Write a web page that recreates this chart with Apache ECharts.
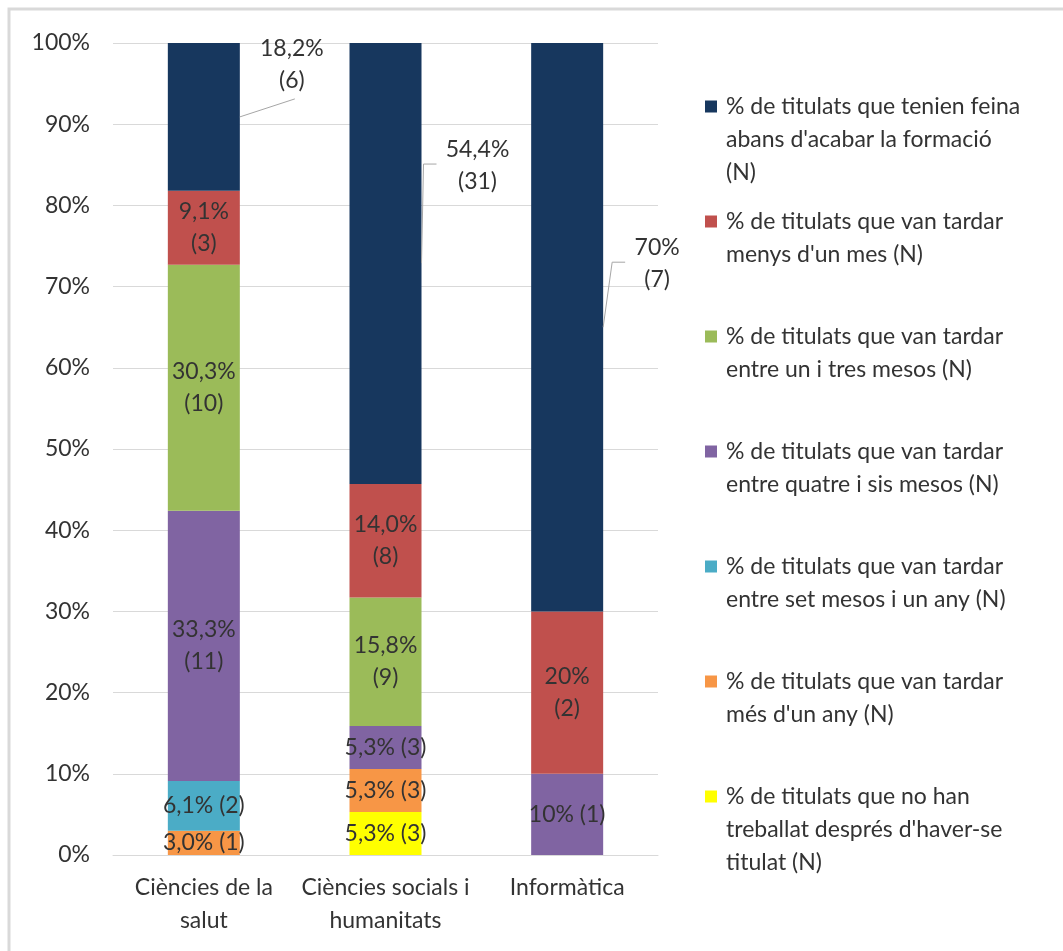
<!DOCTYPE html>
<html>
<head>
<meta charset="utf-8">
<title>Temps per trobar feina</title>
<script src="https://cdn.jsdelivr.net/npm/echarts@6/dist/echarts.min.js"></script>
<style>
html, body { margin: 0; padding: 0; background: #fff; }
#main { width: 1063px; height: 951px; }
</style>
</head>
<body>
<div id="main"></div>
<script>
var categories = ['Ciències de la\nsalut', 'Ciències socials i\nhumanitats', 'Informàtica'];

// text de la llegenda, una línia per element
var legendLines = [
  ['% de titulats que tenien feina', "abans d'acabar la formació", '(N)'],
  ['% de titulats que van tardar', "menys d'un mes (N)"],
  ['% de titulats que van tardar', 'entre un i tres mesos (N)'],
  ['% de titulats que van tardar', 'entre quatre i sis mesos (N)'],
  ['% de titulats que van tardar', 'entre set mesos i un any (N)'],
  ['% de titulats que van tardar', "més d'un any (N)"],
  ['% de titulats que no han', "treballat després d'haver-se", 'titulat (N)']
];

// percentatges (salut, socials, informàtica)
var pctFeinaAbans = [18.2, 54.4, 70];
var pctMenysMes = [9.1, 14.0, 20];
var pctUnTres = [30.3, 15.8, 0];
var pctQuatreSis = [33.3, 5.3, 10];
var pctSetMesosAny = [6.1, 0, 0];
var pctMesAny = [3.0, 5.3, 0];
var pctNoTreballat = [0, 5.3, 0];

// nombre de titulats (N)
var nFeinaAbans = [6, 31, 7];
var nMenysMes = [3, 8, 2];
var nUnTres = [10, 9, 0];
var nQuatreSis = [11, 3, 1];
var nSetMesosAny = [2, 0, 0];
var nMesAny = [1, 3, 0];
var nNoTreballat = [0, 3, 0];

var decimals = [1, 1, 0];

var pcts = [pctFeinaAbans, pctMenysMes, pctUnTres, pctQuatreSis, pctSetMesosAny, pctMesAny, pctNoTreballat];
var counts = [nFeinaAbans, nMenysMes, nUnTres, nQuatreSis, nSetMesosAny, nMesAny, nNoTreballat];
var colors = ['#17375e', '#c0504d', '#9bbb59', '#8064a2', '#4bacc6', '#f79646', '#ffff00'];
// etiqueta en dues línies o en una
var twoLine = [
  [true, true, true],
  [true, true, true],
  [true, true, false],
  [true, false, false],
  [false, false, false],
  [false, false, false],
  [false, false, false]
];

var FONT = 'Lato, "Open Sans", sans-serif';
var TXT = '#333333';
var FS = 23;
var BAR_W = 72;
// posició de les etiquetes de la part superior respecte al centre del segment
var topLabelShift = [[52, -52], [56, -97], [54, -64]];
var topLeader = [
  [[55, -18]],
  [[2, -99], [15, -99]],
  [[9, -65], [22, -65]]
];

var seriesNames = legendLines.map(function (l) { return l.join(' '); });

function fmtPct(v, d) {
  return v.toFixed(d).replace('.', ',') + '%';
}
function labelText(s, i) {
  var v = pcts[s][i];
  if (!v) return '';
  var p = fmtPct(v, decimals[i]);
  return p + (twoLine[s][i] ? '\n' : ' ') + '(' + counts[s][i] + ')';
}

var series = [];
for (var s = pcts.length - 1; s >= 0; s--) {
  (function (s) {
    series.push({
      name: seriesNames[s],
      type: 'bar',
      stack: 'total',
      barWidth: BAR_W,
      data: pcts[s],
      itemStyle: { color: colors[s] },
      label: {
        show: s !== 0,
        position: 'inside',
        formatter: function (p) { return labelText(s, p.dataIndex); },
        fontSize: FS,
        lineHeight: 32,
        fontFamily: FONT,
        color: TXT,
        textBorderWidth: 0
      },
      emphasis: { disabled: true }
    });
  })(s);
}

// etiquetes de "feina abans" amb línia guia
var topData = categories.map(function (c, i) {
  var base = 0;
  for (var s = 1; s < pcts.length; s++) base += pcts[s][i];
  return [i, base, base + pctFeinaAbans[i]];
});
series.push({
  type: 'custom',
  silent: true,
  clip: false,
  z: 10,
  data: topData,
  renderItem: function (params, api) {
    var i = api.value(0);
    var lo = api.coord([i, api.value(1)]);
    var hi = api.coord([i, api.value(2)]);
    var ax = lo[0] + BAR_W / 2;
    var ay = (lo[1] + hi[1]) / 2;
    var sh = topLabelShift[i];
    var pts = [[ax, ay]].concat(topLeader[i].map(function (p) { return [ax + p[0], ay + p[1]]; }));
    return {
      type: 'group',
      children: [
        {
          type: 'polyline',
          shape: { points: pts },
          style: { stroke: '#a6a6a6', lineWidth: 1, fill: null }
        },
        {
          type: 'text',
          x: ax + sh[0],
          y: ay + sh[1],
          style: {
            text: labelText(0, i),
            align: 'center',
            verticalAlign: 'middle',
            fontSize: FS,
            lineHeight: 32,
            fontFamily: FONT,
            fill: TXT
          }
        }
      ]
    };
  }
});

var rich = {
  t: { fontSize: FS, lineHeight: 33, color: TXT, fontFamily: FONT },
  g: { width: 9, lineHeight: 33 },
  sp: { width: 21, lineHeight: 33 }
};
colors.forEach(function (c, i) {
  rich['sq' + i] = { width: 12, height: 12, backgroundColor: c };
});

var chart = echarts.init(document.getElementById('main'), null, { renderer: 'canvas' });
chart.setOption({
  animation: false,
  backgroundColor: '#ffffff',
  textStyle: { fontFamily: FONT },
  graphic: [{
    type: 'rect',
    silent: true,
    shape: { x: 9, y: 9, width: 1200, height: 1200 },
    style: { fill: 'none', stroke: '#d9d9d9', lineWidth: 3 }
  }],
  grid: { left: 113, right: 405, top: 43, bottom: 96, outerBoundsMode: 'none' },
  legend: {
    orient: 'vertical',
    left: 695,
    top: 90,
    itemGap: 26,
    icon: 'none',
    itemWidth: 0,
    itemHeight: 12,
    selectedMode: false,
    data: seriesNames,
    formatter: function (name) {
      var idx = seriesNames.indexOf(name);
      var lines = legendLines[idx];
      var out = '{sq' + idx + '|}{g|}{t|' + lines[0] + '}';
      for (var k = 1; k < 3; k++) {
        out += '\n{sp|}' + (lines[k] ? '{t|' + lines[k] + '}' : '');
      }
      return out;
    },
    textStyle: { rich: rich, fontSize: FS, color: TXT, fontFamily: FONT }
  },
  xAxis: {
    type: 'category',
    data: categories,
    axisTick: { show: false },
    axisLine: { lineStyle: { color: '#d9d9d9', width: 1 } },
    axisLabel: { fontSize: FS, lineHeight: 33, color: TXT, margin: 16, fontFamily: FONT, interval: 0 }
  },
  yAxis: {
    type: 'value',
    min: 0,
    max: 100,
    interval: 10,
    axisLine: { show: false },
    axisTick: { show: false },
    splitLine: { lineStyle: { color: '#d9d9d9', width: 1 } },
    axisLabel: { formatter: '{value}%', fontSize: FS, color: TXT, margin: 23, fontFamily: FONT }
  },
  series: series
});
</script>
</body>
</html>
